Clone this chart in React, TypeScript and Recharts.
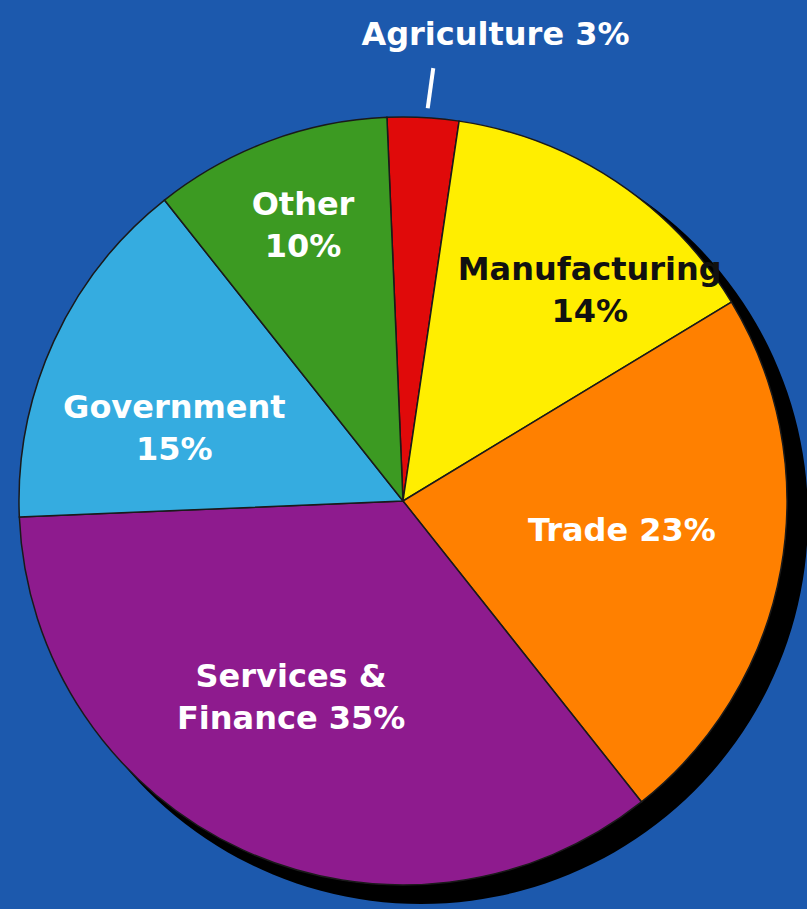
import { PieChart, Pie, Cell } from "recharts";

const categories = ["Agriculture", "Manufacturing", "Trade", "Services & Finance", "Government", "Other"];
const shares = [3, 14, 23, 35, 15, 10];
const sliceColors = ["#e00a0a", "#ffee00", "#ff8000", "#8e1b8e", "#35ace0", "#3c9a22"];
const labelLines = [
  ["Agriculture 3%"],
  ["Manufacturing", "14%"],
  ["Trade 23%"],
  ["Services &", "Finance 35%"],
  ["Government", "15%"],
  ["Other", "10%"],
];
const labelColors = ["#ffffff", "#111111", "#ffffff", "#ffffff", "#ffffff", "#ffffff"];

// label placement as radius fraction + angle nudge from slice mid
const labelLayout = [
  { f: 1.24, dAngle: -8.2 },
  { f: 0.734, dAngle: -7.9 },
  { f: 0.575, dAngle: 2.7 },
  { f: 0.588, dAngle: -5.1 },
  { f: 0.625, dAngle: 6.9 },
  { f: 0.765, dAngle: -0.5 },
];

const data = categories.map((name, i) => ({ name, value: shares[i] }));
const shadowData = [{ name: "shadow", value: 1 }];

const RADIAN = Math.PI / 180;
const polar = (cx: number, cy: number, r: number, angle: number) => ({
  x: cx + r * Math.cos(-angle * RADIAN),
  y: cy + r * Math.sin(-angle * RADIAN),
});

const LINE_H = 42;

// eslint-disable-next-line @typescript-eslint/no-explicit-any
const renderLabel = (props: any) => {
  const { cx, cy, midAngle, outerRadius, index } = props;
  const lay = labelLayout[index];
  const p = polar(cx, cy, outerRadius * lay.f, midAngle + lay.dAngle);
  const lines = labelLines[index];
  const top = p.y - ((lines.length - 1) * LINE_H) / 2 + 11;
  let leader = null;
  if (index === 0) {
    const a = polar(cx, cy, outerRadius * 1.025, midAngle - 0.6);
    const b = polar(cx, cy, outerRadius * 1.13, midAngle - 1.0);
    leader = <line x1={a.x} y1={a.y} x2={b.x} y2={b.y} stroke="#ffffff" strokeWidth={4} />;
  }
  return (
    <g key={`lbl-${index}`}>
      {leader}
      <text
        x={p.x}
        y={top}
        textAnchor="middle"
        fill={labelColors[index]}
        fontFamily="DejaVu Sans, sans-serif"
        fontWeight="bold"
        fontSize={32}
      >
        {lines.map((l, j) => (
          <tspan key={j} x={p.x} dy={j === 0 ? 0 : LINE_H}>
            {l}
          </tspan>
        ))}
      </text>
    </g>
  );
};

export default function App() {
  return (
    <div style={{ width: 807, height: 909, background: "#1c59ad", overflow: "hidden" }}>
      <style>{`body{margin:0}`}</style>
      <PieChart width={807} height={909} margin={{ top: 0, right: 0, bottom: 0, left: 0 }}>
        <Pie
          data={shadowData}
          dataKey="value"
          cx={421}
          cy={517}
          outerRadius={387}
          startAngle={0}
          endAngle={360}
          fill="#000000"
          stroke="none"
          isAnimationActive={false}
        />
        <Pie
          data={data}
          dataKey="value"
          cx={403}
          cy={501}
          outerRadius={384}
          startAngle={92.4}
          endAngle={-267.6}
          stroke="#1a1a1a"
          strokeWidth={1.5}
          label={renderLabel}
          labelLine={false}
          isAnimationActive={false}
        >
          {data.map((d, i) => (
            <Cell key={d.name} fill={sliceColors[i]} />
          ))}
        </Pie>
      </PieChart>
    </div>
  );
}
